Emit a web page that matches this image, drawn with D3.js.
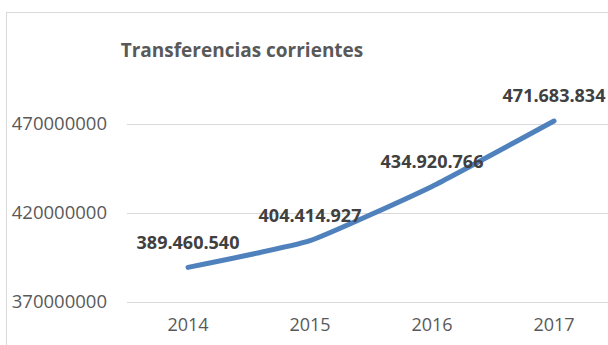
<!DOCTYPE html>
<html>
<head>
<meta charset="utf-8">
<script src="https://cdn.jsdelivr.net/npm/d3@7"></script>
<style>
  html, body { margin: 0; padding: 0; background: #fff; }
  svg { display: block; }
</style>
</head>
<body>
<svg id="chart" width="608" height="345"></svg>
<script>
// Series: current transfers per year
const years = ["2014", "2015", "2016", "2017"];
const values = [389460540, 404414927, 434920766, 471683834];
const valueLabels = ["389.460.540", "404.414.927", "434.920.766", "471.683.834"];
const yTicks = [370000000, 420000000, 470000000];
const titleText = "Transferencias corrientes";

const svg = d3.select("#chart");
const W = 608, H = 345;

// Chart frame
svg.append("rect")
  .attr("x", 6.5).attr("y", 12.5)
  .attr("width", 620).attr("height", 360)
  .attr("fill", "#fff")
  .attr("stroke", "#d9d9d9").attr("stroke-width", 1);

const x = d3.scaleBand().domain(years).range([127, 615]);
const y = d3.scaleLinear().domain([370000000, 470000000]).range([302, 124]);

// Gridlines
svg.append("g")
  .selectAll("line")
  .data(yTicks)
  .join("line")
  .attr("x1", 127).attr("x2", W)
  .attr("y1", d => Math.round(y(d)) + 0.5)
  .attr("y2", d => Math.round(y(d)) + 0.5)
  .attr("stroke", "#d9d9d9").attr("stroke-width", 1);

// Y axis labels
const yAxis = d3.axisLeft(y).tickValues(yTicks).tickSize(0).tickPadding(0)
  .tickFormat(d3.format("d"));
const gy = svg.append("g").attr("transform", "translate(107,0)").call(yAxis);
gy.select(".domain").remove();
gy.selectAll("text")
  .attr("fill", "#595959")
  .style("font-family", "'Open Sans', sans-serif")
  .style("font-size", "18.5px");

// X axis labels
const xAxis = d3.axisBottom(x).tickSize(0).tickPadding(0);
const gx = svg.append("g").attr("transform", "translate(0,318)").call(xAxis);
gx.select(".domain").remove();
gx.selectAll("text")
  .attr("fill", "#595959")
  .style("font-family", "'Open Sans', sans-serif")
  .style("font-size", "18px");

// Smoothed line
const cx = d => x(d) + x.bandwidth() / 2;
const line = d3.line()
  .x((d, i) => cx(years[i]))
  .y(d => y(d))
  .curve(d3.curveCardinal.tension(0.6));

svg.append("path")
  .datum(values)
  .attr("d", line)
  .attr("fill", "none")
  .attr("stroke", "#4F81BD")
  .attr("stroke-width", 5)
  .attr("stroke-linecap", "round")
  .attr("stroke-linejoin", "round");

// Value labels
svg.append("g")
  .selectAll("text")
  .data(values)
  .join("text")
  .attr("x", (d, i) => cx(years[i]))
  .attr("y", d => y(d) - 25)
  .attr("dy", "0.35em")
  .attr("text-anchor", "middle")
  .attr("fill", "#404040")
  .style("font-family", "'Open Sans', sans-serif")
  .style("font-weight", "bold")
  .style("font-size", "18px")
  .text((d, i) => valueLabels[i]);

// Title
svg.append("text")
  .attr("x", 242).attr("y", 50)
  .attr("dy", "0.35em")
  .attr("text-anchor", "middle")
  .attr("fill", "#595959")
  .style("font-family", "'Open Sans', sans-serif")
  .style("font-weight", "bold")
  .style("font-size", "19px")
  .text(titleText);
</script>
</body>
</html>
